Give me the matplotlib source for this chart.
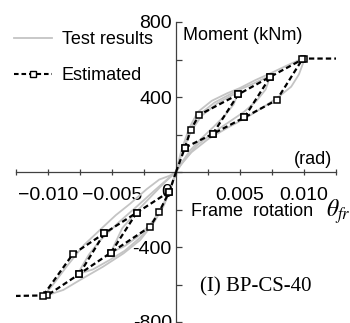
import matplotlib
matplotlib.use("Agg")
import matplotlib.pyplot as plt
from matplotlib.ticker import MultipleLocator, FixedLocator, FixedFormatter

plt.rcParams['font.family'] = ['Liberation Sans', 'DejaVu Sans']
plt.rcParams['mathtext.fontset'] = 'stix'

# ---------------- data ----------------
# Test results: three hysteresis loops (closed paths)
test_a_x = [0, 0.0005, 0.0012, 0.002, 0.0032, 0.0049,
            0.0045, 0.0038, 0.003, 0.002, 0.0011, 0.0004, 0,
            -0.0008, -0.0018, -0.003, -0.0042, -0.0051,
            -0.004, -0.003, -0.002, -0.0012, -0.0005, 0]
test_a_y = [0, 110, 220, 300, 365, 430,
            360, 300, 245, 180, 115, 45, 0,
            -50, -120, -205, -300, -430,
            -395, -345, -280, -200, -100, 0]

test_b_x = [0, 0.0005, 0.0011, 0.0018, 0.003, 0.0045, 0.006, 0.0074,
            0.007, 0.0063, 0.0053, 0.004, 0.0028, 0.0016, 0.0006, 0,
            -0.0007, -0.0017, -0.003, -0.0045, -0.006, -0.0068, -0.0077,
            -0.0065, -0.0052, -0.004, -0.0028, -0.0017, -0.0009, -0.0004, 0]
test_b_y = [0, 115, 225, 305, 370, 425, 470, 515,
            440, 380, 320, 260, 205, 140, 60, 0,
            -40, -100, -180, -270, -370, -440, -545,
            -520, -470, -420, -350, -265, -170, -85, 0]

test_c_x = [0, 0.0004, 0.001, 0.0017, 0.0028, 0.004, 0.005, 0.0062, 0.0074, 0.0088, 0.0101,
            0.0096, 0.009, 0.008, 0.0068, 0.0055, 0.004, 0.0025, 0.0012, 0.0004, 0,
            -0.0005, -0.0013, -0.0023, -0.0036, -0.0047, -0.0058, -0.0072, -0.0085, -0.0096, -0.0104,
            -0.0088, -0.0075, -0.0057, -0.0041, -0.0028, -0.00177, -0.001, -0.00047, 0]
test_c_y = [0, 110, 230, 320, 380, 420, 448, 490, 527, 572, 612,
            520, 455, 400, 345, 290, 235, 175, 105, 40, 0,
            -20, -40, -92, -170, -230, -300, -390, -500, -600, -665,
            -629, -576, -505, -434, -363, -274, -185, -96, 0]

# Estimated: envelope (skeleton) and pinched branches
est_pos_env_x = [0, 0.0007, 0.00115, 0.0018, 0.00487, 0.00737, 0.0100, 0.0125]
est_pos_env_y = [0, 130, 224, 304, 414, 508, 605, 605]
est_pos_pin_x = [0.0007, 0.00287, 0.00534, 0.00787, 0.00987]
est_pos_pin_y = [130, 203, 291, 384, 601]

est_neg_env_x = [0, -0.00052, -0.00133, -0.00203, -0.00508, -0.00755, -0.01006, -0.0125]
est_neg_env_y = [0, -105, -215, -292, -430, -544, -658, -661]
est_neg_pin_x = [-0.00052, -0.00307, -0.0056, -0.00807, -0.0104]
est_neg_pin_y = [-105, -217, -327, -439, -661]

reload_pairs = [(1, 4), (2, 5)]  # (pinched index, envelope index)

x_major = [-0.010, -0.005, 0.005, 0.010]
x_labels = ['\u22120.010', '\u22120.005', '0.005', '0.010']
y_major = [-800, -400, 400, 800]
y_labels = ['-800', '-400', '400', '800']

# ---------------- plot ----------------
W, H = 350, 323
fig = plt.figure(figsize=(W / 100, H / 100), dpi=100)
ax = fig.add_axes([16 / W, 1 / H, 320 / W, 300 / H])
ax.set_xlim(-0.0125, 0.0125)
ax.set_ylim(-800, 800)

gray = '#c4c4c4'
for xs, ys in [(test_a_x, test_a_y), (test_b_x, test_b_y), (test_c_x, test_c_y)]:
    ax.plot(xs, ys, color=gray, lw=1.3, zorder=2)

est_style = dict(color='black', lw=1.6, linestyle=(0, (2.4, 1.4)),
                 marker='s', markersize=4.3, markerfacecolor='white',
                 markeredgecolor='black', markeredgewidth=1.1, zorder=4)

for ex, ey, px, py in [(est_pos_env_x, est_pos_env_y, est_pos_pin_x, est_pos_pin_y),
                       (est_neg_env_x, est_neg_env_y, est_neg_pin_x, est_neg_pin_y)]:
    ax.plot(ex, ey, markevery=list(range(1, len(ex) - 1)), **est_style)
    ax.plot(px, py, **est_style)
    for pi, ei in reload_pairs:
        ax.plot([px[pi], ex[ei]], [py[pi], ey[ei]], **est_style)

# legend handles
h_test, = ax.plot([], [], color=gray, lw=1.3, label='Test results')
h_est, = ax.plot([], [], color='black', lw=1.5, linestyle=(0, (2.2, 1.4)),
                 marker='s', markersize=4, markerfacecolor='white',
                 markeredgecolor='black', markeredgewidth=1.0, label='Estimated')
leg = fig.legend(handles=[h_test, h_est], loc='upper left',
                 bbox_to_anchor=(14 / W, 1 - 31 / H), frameon=False,
                 fontsize=13, handlelength=2.1, handletextpad=0.55,
                 labelspacing=1.05, borderpad=0, borderaxespad=0)

# spines
for s in ['top', 'right']:
    ax.spines[s].set_visible(False)
ax.spines['left'].set_position(('data', 0))
ax.spines['bottom'].set_position(('data', 0))
for s in ['left', 'bottom']:
    ax.spines[s].set_color('#404040')
    ax.spines[s].set_linewidth(0.9)
    ax.spines[s].set_zorder(3)

ax.xaxis.set_major_locator(FixedLocator(x_major))
ax.xaxis.set_major_formatter(FixedFormatter(x_labels))
ax.xaxis.set_minor_locator(MultipleLocator(0.0025))
ax.yaxis.set_major_locator(FixedLocator(y_major))
ax.yaxis.set_major_formatter(FixedFormatter(y_labels))
ax.yaxis.set_minor_locator(MultipleLocator(200))

ax.tick_params(axis='x', which='both', direction='inout', length=5, width=0.9,
               color='#404040', labelsize=14, pad=8)
ax.tick_params(axis='y', which='both', direction='in', length=4, width=0.9,
               color='#404040', labelsize=14, pad=3)

ax.annotate('0', xy=(0, 0), xytext=(-6.5, -14.5), textcoords='offset points',
            ha='center', va='center', fontsize=14)

ax.text(0.00055, 730, 'Moment (kNm)', fontsize=13, ha='left', va='center')
ax.text(0.0107, 64, '(rad)', fontsize=13, ha='center', va='center')
ax.text(0.00117, -213, 'Frame  rotation', fontsize=13, ha='left', va='center')
ax.text(0.0117, -213, r'$\theta_{fr}$', fontsize=17, ha='left', va='center')
ax.text(0.0019, -613, '(I) BP-CS-40', fontsize=15, family='Liberation Serif',
        ha='left', va='center')

fig.savefig('out.png', dpi=100)
